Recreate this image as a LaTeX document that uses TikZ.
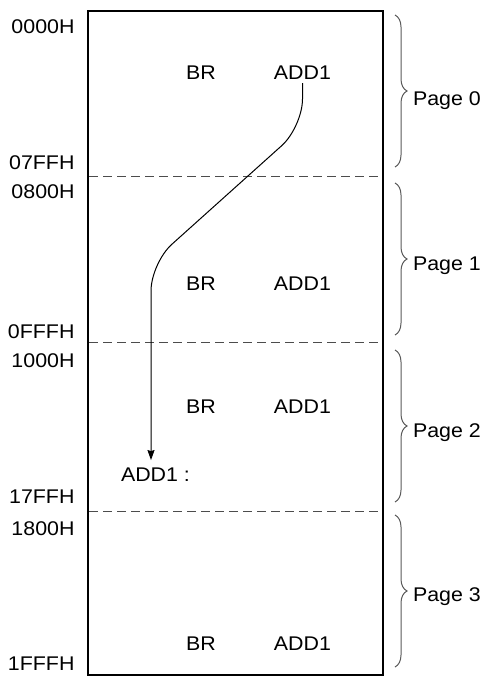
\documentclass[tikz,border=0pt]{standalone}
\usepackage{fontspec}
\setmainfont{Liberation Sans}[FakeStretch=1.08]
\usetikzlibrary{arrows.meta,decorations.pathreplacing}
\begin{document}
\begin{tikzpicture}[x=1pt,y=-1pt,
  txt/.style={inner sep=0pt,outer sep=0pt,font=\fontsize{19.8}{23}\selectfont},
  addr/.style={txt,anchor=base east},
  instr/.style={txt,anchor=base},
  pagelbl/.style={txt,anchor=base west},
  sep/.style={draw=black!70,line width=1pt,dash pattern=on 9pt off 5pt},
  pbrace/.style={draw=black!65,line width=1pt,decorate,decoration={brace,amplitude=12pt}},
  jump/.style={draw=black,line width=1pt,rounded corners=28pt,-{Stealth[length=10pt,width=7pt,inset=1pt]}}]
\useasboundingbox (0,0) rectangle (484,677);
% memory block
\draw[line width=2.2pt] (88,11) rectangle (383,675);
\draw[sep] (89,176) -- (382,176);
\draw[sep] (89,342) -- (382,342);
\draw[sep] (89,511) -- (382,511);
% addresses
\node[addr] (a0) at (74.5,33.4) {0000H};
\node[addr] (a1) at (74.5,169.2) {07FFH};
\node[addr] (a2) at (74.5,198.7) {0800H};
\node[addr] (a3) at (74.5,338) {0FFFH};
\node[addr] (a4) at (74.5,367.7) {1000H};
\node[addr] (a5) at (74.5,503.3) {17FFH};
\node[addr] (a6) at (74.5,535) {1800H};
\node[addr] (a7) at (74.5,670) {1FFFH};
% instructions
\node[instr] (br0) at (201,80) {BR};
\node[instr] (add0) at (302.5,80) {ADD1};
\node[instr] (br1) at (201,290) {BR};
\node[instr] (add1) at (302.5,290) {ADD1};
\node[instr] (br2) at (201,413.3) {BR};
\node[instr] (add2) at (302.5,413.3) {ADD1};
\node[instr] (br3) at (201,650) {BR};
\node[instr] (add3) at (302.5,650) {ADD1};
\node[txt,anchor=base west] (tgt) at (121,481.7) {ADD1 :};
% braces
\draw[pbrace] (395,15) -- (395,167);
\draw[pbrace] (395,183) -- (395,335);
\draw[pbrace] (395,350) -- (395,502);
\draw[pbrace] (395,515) -- (395,667);
\node[pagelbl] (p0) at (413,105) {Page 0};
\node[pagelbl] (p1) at (413,270.5) {Page 1};
\node[pagelbl] (p2) at (413,437.5) {Page 2};
\node[pagelbl] (p3) at (413,601.5) {Page 3};
% jump
\coordinate (c1) at (302.5,127);
\coordinate (c2) at (151,263);
\draw[jump] ([yshift=-3pt]add0.south) -- (c1) -- (c2) -- ([yshift=8pt]c2 |- tgt.north);
\end{tikzpicture}
\end{document}
